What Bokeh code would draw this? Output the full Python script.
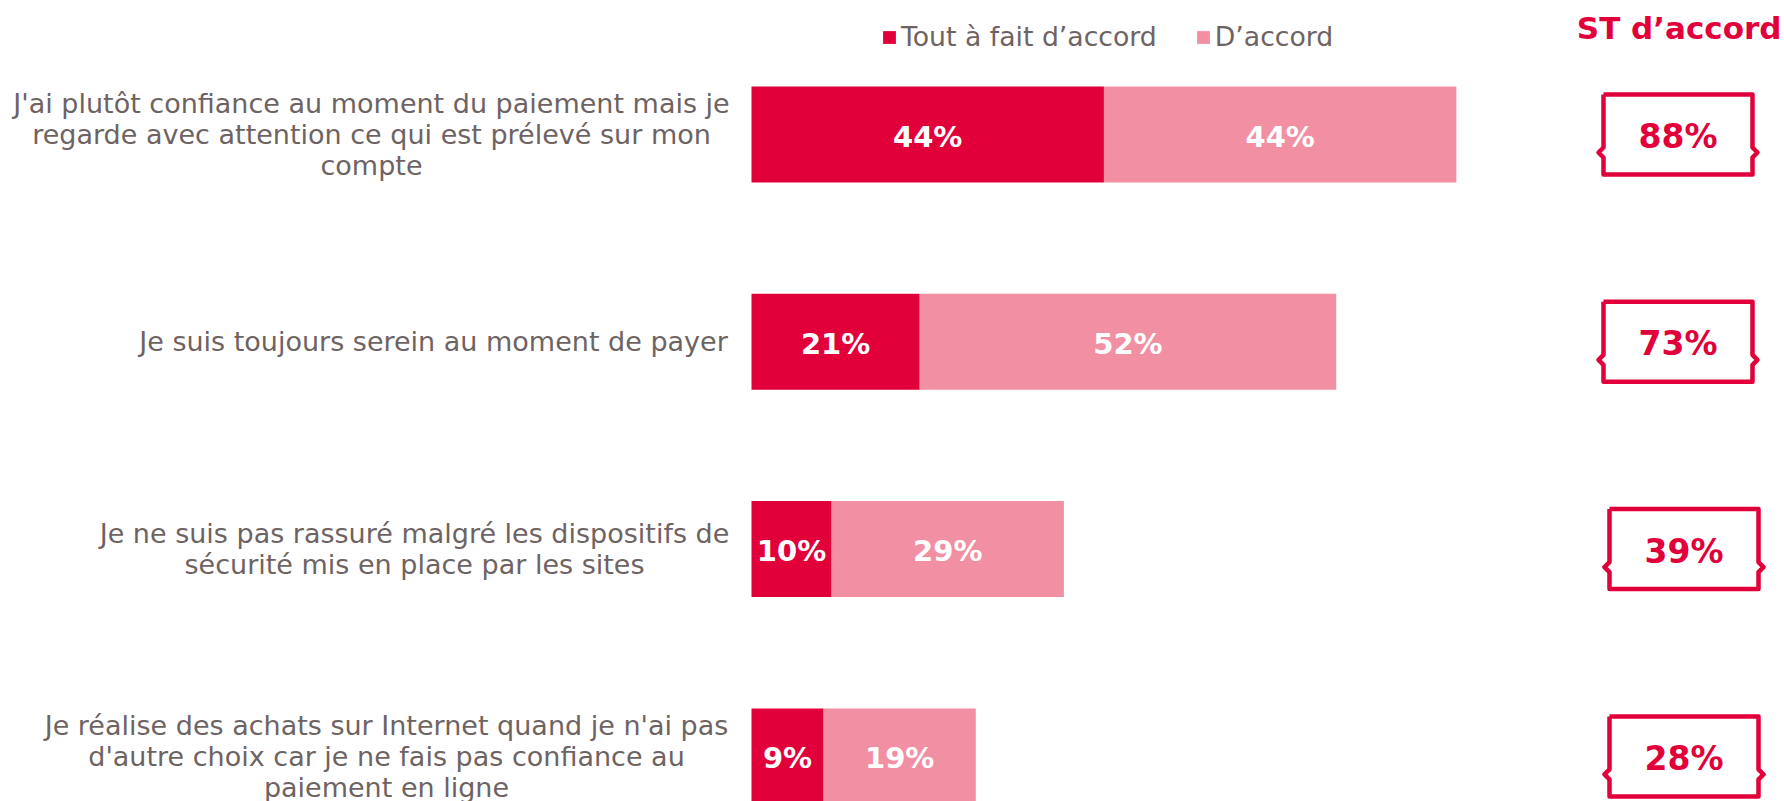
from bokeh.plotting import figure
from bokeh.models import Range1d, Legend, LegendItem, ColumnDataSource
from bokeh.core.properties import value
from bokeh.embed import file_html
from bokeh.resources import INLINE

# ---------------- data ----------------
categories = [
    "J'ai plutôt confiance au moment du paiement mais je\nregarde avec attention ce qui est prélevé sur mon\ncompte",
    "Je suis toujours serein au moment de payer",
    "Je ne suis pas rassuré malgré les dispositifs de\nsécurité mis en place par les sites",
    "Je réalise des achats sur Internet quand je n'ai pas\nd'autre choix car je ne fais pas confiance au\npaiement en ligne",
]
tout_a_fait = [44, 21, 10, 9]
d_accord = [44, 52, 29, 19]
st_accord = [88, 73, 39, 28]
series_names = ["Tout à fait d’accord", "D’accord"]
total_title = "ST d’accord"

# ---------------- style ----------------
RED = "#E1003A"
PINK = "#F290A3"
GRAY = "#6E6363"
FONT = "DejaVu Sans"

W, H = 1784, 801
PX_PER_PCT = 8.01          # horizontal scale
BAR_X0 = 751               # canvas px where 0% lies
ROW0 = 134                 # canvas px of first row centre
ROW_STEP = 207.3           # px between rows

x_start = -BAR_X0 / PX_PER_PCT
x_end = (W - BAR_X0) / PX_PER_PCT
y_bottom = (H - ROW0) / ROW_STEP
y_top = -ROW0 / ROW_STEP


def xd(px):
    return (px - BAR_X0) / PX_PER_PCT


def dx(px):
    return px / PX_PER_PCT


def dy(px):
    return px / ROW_STEP


p = figure(width=W, height=H, x_range=Range1d(x_start, x_end),
           y_range=Range1d(y_bottom, y_top), output_backend="svg",
           toolbar_location=None, min_border=0, outline_line_color=None,
           background_fill_color="white", border_fill_color="white")
p.axis.visible = False
p.grid.visible = False

idx = list(range(len(categories)))
right2 = [a + b for a, b in zip(tout_a_fait, d_accord)]

src = ColumnDataSource(dict(
    y=idx, r1=tout_a_fait, l2=tout_a_fait, r2=right2,
    c1=[v / 2 for v in tout_a_fait],
    c2=[a + b / 2 for a, b in zip(tout_a_fait, d_accord)],
    t1=[f"{v}%" for v in tout_a_fait],
    t2=[f"{v}%" for v in d_accord],
))

bar_h = dy(96)
r_red = p.hbar(y="y", left=0, right="r1", height=bar_h, source=src,
               fill_color=RED, line_color=None)
r_pink = p.hbar(y="y", left="l2", right="r2", height=bar_h, source=src,
                fill_color=PINK, line_color=None)

for col_x, col_t in (("c1", "t1"), ("c2", "t2")):
    p.text(x=col_x, y="y", text=col_t, source=src, text_color="white",
           text_font=value(FONT), text_font_style="bold",
           text_font_size="29px", text_align="center",
           text_baseline="middle", y_offset=2)

# category labels (centred lines, block right edge at ~726px)
label_center_px = [371, 433, 414, 386]
p.text(x=[xd(c) for c in label_center_px], y=idx, text=categories,
       text_color=GRAY, text_font=value(FONT), text_font_size="27px",
       text_align="center", text_baseline="middle", text_line_height=1.01)

# ST d'accord boxes
box_cx_px = [1677.5, 1677.5, 1683.5, 1683.5]
bw, bh = 149, 80
xs, ys = [], []
for i, cx in zip(idx, box_cx_px):
    xl, xr = xd(cx - bw / 2), xd(cx + bw / 2)
    yt, yb = i - dy(bh / 2), i + dy(bh / 2)
    yn = i + dy(19)
    n1, n2, n3 = yn - dy(6), yn - dy(1), yn + dy(4)
    xs.append([xl, xr, xr, xr + dx(5), xr, xr, xl, xl, xl - dx(5), xl, xl])
    ys.append([yt, yt, n1, n2, n3, yb, yb, n3, n2, n1, yt])
p.multi_line(xs=xs, ys=ys, line_color=RED, line_width=4.5, line_join="round")
p.text(x=[xd(c) for c in box_cx_px], y=idx, text=[f"{v}%" for v in st_accord],
       text_color=RED, text_font=value(FONT), text_font_style="bold",
       text_font_size="33px", text_align="center", text_baseline="middle",
       y_offset=2)

# title of total column
p.text(x=[xd(1781)], y=[-dy(ROW0 - 27)], text=[total_title], text_color=RED,
       text_font=value(FONT), text_font_style="bold", text_font_size="31px",
       text_align="right", text_baseline="middle")

legend = Legend(items=[LegendItem(label=series_names[0], renderers=[r_red]),
                       LegendItem(label=series_names[1], renderers=[r_pink])],
                orientation="horizontal", location=(881, 749),
                glyph_width=16, glyph_height=16, label_standoff=4, spacing=38,
                padding=0, margin=0, border_line_color=None,
                background_fill_alpha=0, label_text_font=FONT,
                label_text_font_size="26.7px", label_text_color=GRAY)
p.add_layout(legend, "center")

open("out.html", "w").write(file_html(p, INLINE))
